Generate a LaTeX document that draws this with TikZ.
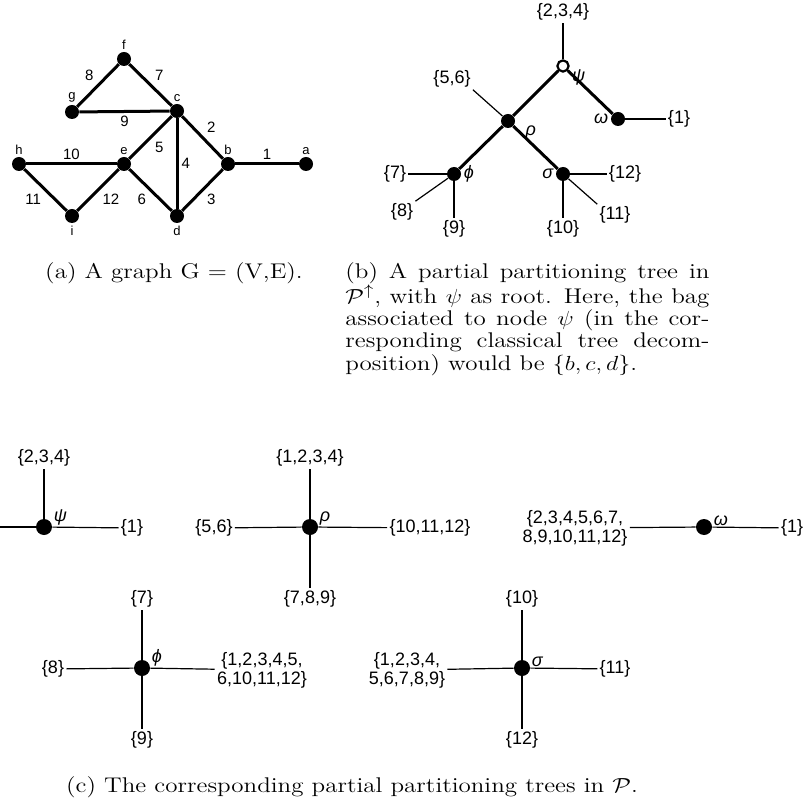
\documentclass[tikz,border=0pt]{standalone}
\usepackage{amsmath,amssymb}
\usepackage{graphicx}
\usepackage{fontspec}
\newfontfamily\lblfont{Liberation Sans}
\usepackage{tikz}
\usetikzlibrary{positioning}
\newcommand{\capfont}{\fontsize{12.5}{13.1}\selectfont}
\newcommand{\squish}[1]{\scalebox{1}[0.85]{#1}}
\tikzset{
  vtx/.style={circle,fill=black,inner sep=0pt,minimum size=7pt},
  rootv/.style={circle,draw=black,fill=white,line width=1.1pt,inner sep=0pt,minimum size=5.6pt},
  tv/.style={circle,fill=black,inner sep=0pt,minimum size=8pt},
  edge/.style={line width=1.5pt},
  thinl/.style={line width=0.6pt},
  vlbl/.style={font=\lblfont\fontsize{6.5}{7}\selectfont,inner sep=1pt},
  elbl/.style={font=\lblfont\fontsize{7.5}{8}\selectfont,inner sep=1.5pt},
  leaf/.style={font=\lblfont\fontsize{9}{9.5}\selectfont,inner sep=1pt,align=center},
  glbl/.style={font=\lblfont\itshape\fontsize{9}{9}\selectfont,inner sep=1pt},
  glblc/.style={glbl,anchor=south west,inner sep=0.5pt},
}
\begin{document}
\begin{tikzpicture}[x=0.5pt,y=-0.5pt]
  \useasboundingbox (0,0) rectangle (804,806);
  % (a) the graph
  \foreach \vn/\vx/\vy in {f/124/59,g/72/112,c/177/111,h/19/164,
                           e/124/164,b/228/164,a/306/164}{
    \node[vtx,label={[vlbl]above:\vn}] (\vn) at (\vx,\vy) {};}
  \foreach \vn/\vx/\vy in {i/72/216,d/177/216}{
    \node[vtx,label={[vlbl]below:\vn}] (\vn) at (\vx,\vy) {};}
  \foreach \s/\t/\w/\an in {a/b/1/south,b/c/2/south west,b/d/3/north west,
                            c/d/4/west,c/e/5/north west,e/d/6/north east,
                            c/f/7/south west,f/g/8/south east,g/c/9/north,
                            h/e/10/south,h/i/11/north east,i/e/12/north west}{
    \draw[edge] (\s) -- node[elbl,anchor=\an] {\w} (\t);}
  \node[anchor=base] (capA) at (174,279) {\squish{\capfont (a) A graph G = (V,E).}};

  % (b) partial partitioning tree rooted at psi
  \node[rootv,label={[glbl]-10:ψ}] (psiB) at (563,66) {};
  \node[vtx,label={[glbl,label distance=4pt]-10:ρ}] (rhoB) at (508,121) {};
  \node[vtx,label={[glbl]left:ω}] (omgB) at (618,119) {};
  \node[vtx,label={[glbl]right:ϕ}] (phiB) at (454,174) {};
  \node[vtx,label={[glbl]left:σ}] (sigB) at (563,174) {};
  \draw[edge] (psiB) -- (rhoB) -- (phiB);
  \draw[edge] (psiB) -- (omgB);
  \draw[edge] (rhoB) -- (sigB);
  \node[leaf] (b234) at (563,12) {\{2,3,4\}};
  \node[leaf] (b56) at (452,79) {\{5,6\}};
  \node[leaf] (b1) at (679,119) {\{1\}};
  \node[leaf] (b7) at (395,174) {\{7\}};
  \node[leaf] (b8) at (402,212) {\{8\}};
  \node[leaf] (b9) at (454,229) {\{9\}};
  \node[leaf] (b10) at (563,229) {\{10\}};
  \node[leaf] (b11) at (615,215) {\{11\}};
  \node[leaf] (b12) at (625,174) {\{12\}};
  \draw[thinl] (psiB) -- (b234);
  \draw[thinl] (rhoB) -- (b56.south east);
  \draw[thinl] (omgB) -- (b1);
  \draw[thinl] (phiB) -- (b7);
  \draw[thinl] (phiB) -- (b8.north east);
  \draw[thinl] (phiB) -- (b9);
  \draw[thinl] (sigB) -- (b10);
  \draw[thinl] (sigB) -- (b11.north west);
  \draw[thinl] (sigB) -- (b12);
  \node[inner sep=0pt,anchor=north west] (capB) at (345,262)
    {\squish{\parbox[t]{182pt}{\capfont (b) A partial partitioning tree in\linebreak
    $\mathcal{P}^{\uparrow}$, with $\psi$ as root. Here, the bag\linebreak
    associated to node $\psi$ (in the cor-\linebreak
    responding classical tree decom-\linebreak
    position) would be $\{b,c,d\}$.}}};

  % (c) the trees in P
  \node[tv,label={[glblc]east:ψ}] (psiC) at (44,527) {};
  \node[tv,label={[glblc]east:ρ}] (rhoC) at (310,527) {};
  \node[tv,label={[glblc]east:ω}] (omgC) at (704,527) {};
  \node[tv,label={[glblc]east:ϕ}] (phiC) at (142,668) {};
  \node[tv,label={[glblc]east:σ}] (sigC) at (522,668) {};
  \coordinate (cL) at (0,527);
  \node[leaf] (c234) at (44,458) {\{2,3,4\}};
  \node[leaf] (c1a) at (132,528) {\{1\}};
  \node[leaf] (c1234) at (310,458) {\{1,2,3,4\}};
  \node[leaf] (c56) at (214,528) {\{5,6\}};
  \node[leaf] (c101112) at (430,528) {\{10,11,12\}};
  \node[leaf] (c789) at (310,599) {\{7,8,9\}};
  \node[leaf] (cbig) at (575,528) {\{2,3,4,5,6,7,\\8,9,10,11,12\}};
  \node[leaf] (c1b) at (792,528) {\{1\}};
  \node[leaf] (c7) at (142,599) {\{7\}};
  \node[leaf] (c8) at (53,669) {\{8\}};
  \node[leaf] (cphiR) at (262,670) {\{1,2,3,4,5,\\6,10,11,12\}};
  \node[leaf] (c9) at (142,740) {\{9\}};
  \node[leaf] (c10) at (522,599) {\{10\}};
  \node[leaf] (csigL) at (407,670) {\{1,2,3,4,\\5,6,7,8,9\}};
  \node[leaf] (c11) at (615,669) {\{11\}};
  \node[leaf] (c12) at (522,740) {\{12\}};
  \draw[thinl] (cL) -- (psiC);
  \foreach \u/\w in {psiC/c234,psiC/c1a,rhoC/c1234,rhoC/c56,rhoC/c101112,
                     rhoC/c789,omgC/cbig,omgC/c1b,phiC/c7,phiC/c8,phiC/cphiR,
                     phiC/c9,sigC/c10,sigC/csigL,sigC/c11,sigC/c12}
    \draw[thinl] (\u) -- (\w);
  \node[anchor=base] (capC) at (352,792)
    {\squish{\capfont (c) The corresponding partial partitioning trees in $\mathcal{P}$.}};
\end{tikzpicture}
\end{document}
